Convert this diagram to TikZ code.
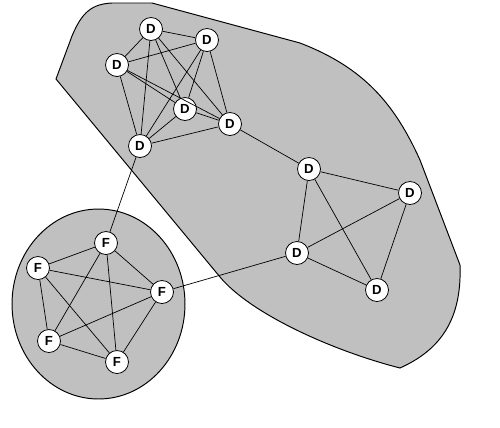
\documentclass[tikz,border=0pt]{standalone}
\usepackage{fontspec}
\setmainfont{Liberation Sans}
\usetikzlibrary{shapes.geometric}
\definecolor{zonegray}{RGB}{192,192,192}
\tikzstyle{vertex} = [circle, draw=black, fill=white, line width=0.45pt, minimum size=0.46cm, inner sep=0pt, font=\fontsize{7.5}{8}\selectfont\bfseries]
\tikzstyle{link} = [line width=0.4pt]
\tikzstyle{zone} = [draw=black, fill=zonegray, line width=0.55pt]

\begin{document}
\begin{tikzpicture}[x=0.02cm, y=-0.02cm]
\useasboundingbox (0,0) rectangle (500,427);

\draw [zone] (56,79) -- (72,36) .. controls (82,12) and (92,4) .. (112,3) -- (152,3) -- (300,43) .. controls (365,68) and (395,105) .. (420,160) -- (460,265) .. controls (462,320) and (440,350) .. (400,368) .. controls (330,350) and (250,313) .. (220,277) -- cycle;

\draw [zone] (98.5,304) ellipse [x radius=1.73cm, y radius=1.9cm];

\node (da1) [vertex] at (151,29) {D};
\node (da2) [vertex] at (207,40) {D};
\node (da3) [vertex] at (117,65) {D};
\node (da4) [vertex] at (185,109) {D};
\node (da5) [vertex] at (230,124) {D};
\node (da6) [vertex] at (140,146) {D};

\node (db1) [vertex] at (309,169) {D};
\node (db2) [vertex] at (410,193) {D};
\node (db3) [vertex] at (297,253) {D};
\node (db4) [vertex] at (377,290) {D};

\node (f1) [vertex] at (106,243) {F};
\node (f2) [vertex] at (38,268) {F};
\node (f3) [vertex] at (162,292) {F};
\node (f4) [vertex] at (49,341) {F};
\node (f5) [vertex] at (117,362) {F};

\draw [link] (da1) -- (da2);
\draw [link] (da1) -- (da3);
\draw [link] (da1) -- (da4);
\draw [link] (da1) -- (da5);
\draw [link] (da1) -- (da6);
\draw [link] (da2) -- (da3);
\draw [link] (da2) -- (da4);
\draw [link] (da2) -- (da5);
\draw [link] (da2) -- (da6);
\draw [link] (da3) -- (da4);
\draw [link] (da3) -- (da5);
\draw [link] (da3) -- (da6);
\draw [link] (da4) -- (da5);
\draw [link] (da4) -- (da6);
\draw [link] (da5) -- (da6);

\draw [link] (db1) -- (db2);
\draw [link] (db1) -- (db3);
\draw [link] (db1) -- (db4);
\draw [link] (db2) -- (db3);
\draw [link] (db2) -- (db4);
\draw [link] (db3) -- (db4);

\draw [link] (f1) -- (f2);
\draw [link] (f1) -- (f3);
\draw [link] (f1) -- (f4);
\draw [link] (f1) -- (f5);
\draw [link] (f2) -- (f3);
\draw [link] (f2) -- (f4);
\draw [link] (f2) -- (f5);
\draw [link] (f3) -- (f4);
\draw [link] (f3) -- (f5);
\draw [link] (f4) -- (f5);

\draw [link] (da5) -- (db1);
\draw [link] (da6) -- (f1);
\draw [link] (f3) -- (db3);

\end{tikzpicture}
\end{document}
